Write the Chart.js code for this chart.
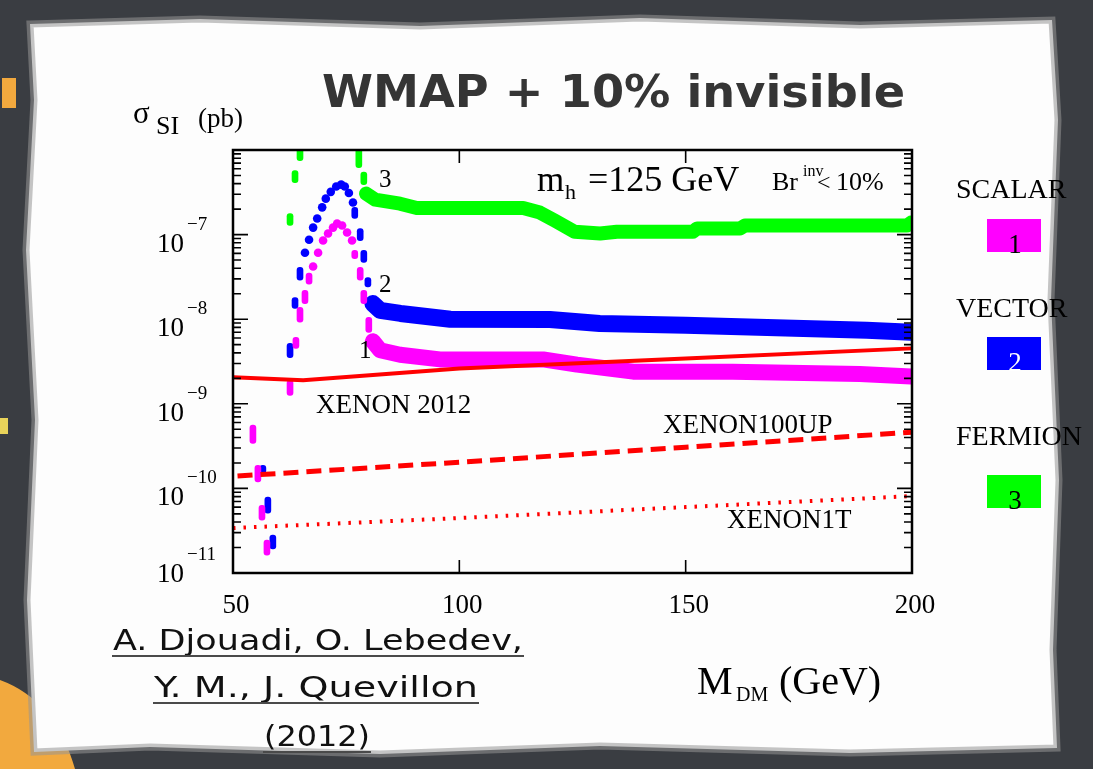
<!DOCTYPE html>
<html>
<head>
<meta charset="utf-8">
<title>WMAP + 10% invisible</title>
<style>
  html, body { margin: 0; padding: 0; background: #3b3e43; }
  canvas { display: block; }
</style>
<script src="https://cdn.jsdelivr.net/npm/chart.js@4.4.1/dist/chart.umd.min.js"></script>
</head>
<body>
<canvas id="dmChart" width="1093" height="769"></canvas>
<script>
// axis ticks
const xTicks = [50, 100, 150, 200];
const yDecades = [-11, -10, -9, -8, -7];

// XENON limits (pb)
const xenon2012Mass  = [50, 65.5, 100, 150, 200, 202.9];
const xenon2012Sigma = [2.06e-9, 1.9e-9, 2.62e-9, 3.44e-9, 4.52e-9, 4.6e-9];
const xenon100upMass  = [51, 100, 150, 200];
const xenon100upSigma = [1.4e-10, 2.04e-10, 3.07e-10, 4.61e-10];
const xenon1tMass  = [50, 100, 150, 200];
const xenon1tSigma = [3.4e-11, 4.46e-11, 6.01e-11, 8.11e-11];

// allowed bands above the resonance
const scalarBandMass  = [80.9, 82.5, 86.9, 95.7, 118.5, 126, 138.4, 160.4, 188.5, 199.8];
const scalarBandSigma = [5.5e-9, 4.3e-9, 3.8e-9, 3.35e-9, 3.35e-9, 2.9e-9, 2.4e-9, 2.4e-9, 2.25e-9, 2.1e-9];
const vectorBandMass  = [80.9, 82.5, 87, 98, 120, 131, 150, 170, 190, 199.8];
const vectorBandSigma = [1.53e-8, 1.27e-8, 1.17e-8, 1.0e-8, 9.9e-9, 8.9e-9, 8.5e-9, 7.9e-9, 7.4e-9, 7.0e-9];
const fermionBandMass  = [79.4, 81.4, 86.9, 90.6, 114.1, 117.8, 121.1, 125.5, 131.1, 134.8, 151.6, 152.5, 162, 163.1, 198.9, 199.8];
const fermionBandSigma = [3.05e-7, 2.59e-7, 2.32e-7, 2.06e-7, 2.06e-7, 1.82e-7, 1.46e-7, 1.08e-7, 1.03e-7, 1.08e-7, 1.08e-7, 1.18e-7, 1.18e-7, 1.28e-7, 1.28e-7, 1.39e-7];

// resonance region: vertical streaks (low / high) and single points
const scalarDashMass = [54.4, 55.5, 56.4, 57.5, 62.6, 63.9, 64.8, 65.9, 66.8, 76.9, 78.1, 78.9, 80.0];
const scalarDashLow  = [3.4e-10, 1.19e-10, 4.2e-11, 1.63e-11, 1.26e-9, 4.5e-9, 9.2e-9, 1.53e-8, 2.6e-8, 5.2e-8, 2.9e-8, 1.53e-8, 7.0e-9];
const scalarDashHigh = [5.6e-10, 1.88e-10, 6.3e-11, 2.45e-11, 1.9e-9, 6.1e-9, 1.38e-8, 2.2e-8, 3.5e-8, 6.5e-8, 4.1e-8, 2.2e-8, 1.05e-8];
const scalarDotMass  = [67.7, 68.8, 69.9, 71.0, 72.1, 73.0, 74.1, 75.2, 76.3];
const scalarDotSigma = [4.2e-8, 6.1e-8, 8.5e-8, 1.03e-7, 1.21e-7, 1.35e-7, 1.28e-7, 1.06e-7, 8.5e-8];

const vectorDashMass = [56.6, 57.7, 58.8, 62.6, 63.7, 64.8, 76.9, 78.1, 78.9, 79.8];
const vectorDashLow  = [1.51e-10, 5.1e-11, 1.92e-11, 3.5e-9, 1.34e-8, 2.9e-8, 1.55e-7, 8.5e-8, 4.7e-8, 2.4e-8];
const vectorDashHigh = [1.88e-10, 7.9e-11, 2.8e-11, 5.2e-9, 1.8e-8, 4.1e-8, 2.1e-7, 1.18e-7, 6.5e-8, 3.1e-8];
const vectorDotMass  = [65.9, 66.8, 67.7, 68.6, 69.7, 70.5, 71.6, 72.8, 73.9, 74.7, 75.6, 76.5];
const vectorDotSigma = [6.1e-8, 8.7e-8, 1.21e-7, 1.55e-7, 2.1e-7, 2.66e-7, 3.2e-7, 3.7e-7, 3.9e-7, 3.7e-7, 3.1e-7, 2.4e-7];

const fermionDashMass = [62.6, 63.7, 64.8, 77.8, 78.9];
const fermionDashLow  = [1.28e-7, 4.1e-7, 7.5e-7, 6.2e-7, 3.9e-7];
const fermionDashHigh = [1.77e-7, 5.7e-7, 1.1e-6, 1.1e-6, 5.5e-7];

const MAGENTA = '#ff00ff', BLUE = '#0000ff', GREEN = '#00ff00', RED = '#ff0000';
const SERIF = '"Liberation Serif", "Times New Roman", serif';
const HAND = '"DejaVu Sans", sans-serif';

function pts(mass, sigma) {
  return mass.map((m, i) => ({ x: m, y: sigma[i] }));
}
function limitLine(mass, sigma, dash, width) {
  return {
    type: 'line', data: pts(mass, sigma), borderColor: RED, borderWidth: width,
    borderDash: dash, borderCapStyle: 'butt', pointRadius: 0, tension: 0, fill: false,
    clip: false, order: 0
  };
}
function band(mass, sigma, color, width) {
  return {
    type: 'line', data: pts(mass, sigma), borderColor: color, borderWidth: width,
    borderCapStyle: 'round', borderJoinStyle: 'round', pointRadius: 0, tension: 0,
    fill: false, order: 3
  };
}
function streaks(mass, low, high, color, order) {
  return {
    type: 'bar', data: mass.map((m, i) => ({ x: m, y: [low[i], high[i]] })),
    backgroundColor: color, barThickness: 6, borderRadius: 3, borderSkipped: false,
    grouped: false, order: order
  };
}
function dots(mass, sigma, color, order) {
  return {
    type: 'scatter', data: pts(mass, sigma), showLine: false, pointRadius: 4.3,
    pointBackgroundColor: color, pointBorderWidth: 0, order: order
  };
}

function text(ctx, s, x, y, size, opts) {
  opts = opts || {};
  ctx.font = (opts.weight || '') + ' ' + size + 'px ' + (opts.family || SERIF);
  ctx.fillStyle = opts.color || '#000';
  ctx.textAlign = opts.align || 'left';
  ctx.textBaseline = 'alphabetic';
  if (opts.fit) {
    const w = ctx.measureText(s).width;
    ctx.save();
    ctx.translate(x, y);
    ctx.scale(opts.fit / w, 1);
    ctx.fillText(s, 0, 0);
    ctx.restore();
  } else {
    ctx.fillText(s, x, y);
  }
}

const paper = {
  id: 'paper',
  beforeDraw(chart) {
    const ctx = chart.ctx;
    ctx.save();
    ctx.fillStyle = '#3a3d42';
    ctx.fillRect(0, 0, chart.width, chart.height);
    // orange chalk marks on the dark border
    ctx.fillStyle = '#f2a93e';
    ctx.beginPath();
    ctx.moveTo(0, 680); ctx.quadraticCurveTo(55, 700, 75, 769); ctx.lineTo(0, 769); ctx.closePath();
    ctx.fill();
    ctx.fillRect(2, 78, 14, 30);
    ctx.fillStyle = '#e8d35a';
    ctx.fillRect(0, 418, 8, 16);
    // torn paper
    const edge = [[30,24],[200,19],[420,26],[640,18],[860,25],[1052,20],[1058,120],[1051,300],[1059,480],[1053,650],[1057,748],
                  [850,753],[600,746],[380,754],[150,747],[34,752],[27,600],[35,420],[26,250],[34,100]];
    ctx.beginPath();
    edge.forEach((p, i) => i ? ctx.lineTo(p[0], p[1]) : ctx.moveTo(p[0], p[1]));
    ctx.closePath();
    ctx.fillStyle = '#fdfdfd';
    ctx.fill();
    ctx.strokeStyle = 'rgba(150,150,150,0.55)';
    ctx.lineWidth = 7;
    ctx.stroke();
    ctx.restore();
  }
};

const decor = {
  id: 'decor',
  afterDatasetsDraw(chart) {
    const { ctx, chartArea: a, scales: { x, y } } = chart;
    ctx.save();
    // frame and ticks
    ctx.strokeStyle = '#000';
    ctx.lineWidth = 2.5;
    ctx.strokeRect(a.left, a.top, a.right - a.left, a.bottom - a.top);
    ctx.lineWidth = 1.6;
    ctx.beginPath();
    xTicks.forEach(v => {
      const px = x.getPixelForValue(v);
      ctx.moveTo(px, a.bottom); ctx.lineTo(px, a.bottom - 13);
      ctx.moveTo(px, a.top); ctx.lineTo(px, a.top + 13);
    });
    yDecades.forEach(e => {
      for (let m = 1; m <= 9; m++) {
        const py = y.getPixelForValue(m * Math.pow(10, e));
        const len = m === 1 ? 15 : 8;
        ctx.moveTo(a.left, py); ctx.lineTo(a.left + len, py);
        ctx.moveTo(a.right, py); ctx.lineTo(a.right - len, py);
      }
    });
    ctx.stroke();

    // tick labels
    xTicks.forEach(v => text(ctx, String(v), x.getPixelForValue(v) + 3, 613, 27, { align: 'center' }));
    yDecades.forEach((e, i) => {
      const py = y.getPixelForValue(Math.pow(10, e)) - (i === 0 ? 8 : 0);
      text(ctx, '10', 184, py + 17, 27, { align: 'right' });
      text(ctx, '\u2212' + Math.abs(e), 187, py - 5, 19);
    });

    // axis titles
    text(ctx, '\u03c3', 133, 123, 31);
    text(ctx, 'SI', 156, 134, 26);
    text(ctx, '(pb)', 198, 127, 27);
    text(ctx, 'M', 697, 694, 40);
    text(ctx, 'DM', 736, 701, 20);
    text(ctx, '(GeV)', 779, 694, 40);

    // annotations inside the frame
    text(ctx, 'm', 537, 191, 35);
    text(ctx, 'h', 565, 199, 22);
    text(ctx, '=125 GeV', 588, 191, 36);
    text(ctx, 'Br', 772, 190, 26);
    text(ctx, 'inv', 803, 176, 16);
    text(ctx, '<', 817, 190, 24);
    text(ctx, '10%', 836, 190, 26);
    text(ctx, '3', 379, 187, 25);
    text(ctx, '2', 379, 292, 25);
    text(ctx, '1', 359, 358, 25);
    text(ctx, 'XENON 2012', 316, 413, 27);
    text(ctx, 'XENON100UP', 663, 433, 27);
    text(ctx, 'XENON1T', 727, 528, 27);

    // legend boxes
    const legend = [['SCALAR', 198, 219, MAGENTA, '1', '#000'],
                    ['VECTOR', 317, 337, BLUE, '2', '#fff'],
                    ['FERMION', 445, 475, GREEN, '3', '#000']];
    legend.forEach(l => {
      text(ctx, l[0], 956, l[1], 28);
      ctx.fillStyle = l[3];
      ctx.fillRect(987, l[2], 54, 33);
      text(ctx, l[4], 1015, l[2] + 34, 27, { align: 'center', color: l[5] });
    });

    // handwritten title and authors
    text(ctx, 'WMAP + 10% invisible', 322, 107, 44, { family: HAND, weight: 'bold', color: '#353535', fit: 583 });
    const authors = [['A. Djouadi, O. Lebedev,', 113, 650, 410, 656],
                     ['Y. M., J. Quevillon', 154, 697, 324, 703],
                     ['(2012)', 264, 746, 106, 752]];
    ctx.strokeStyle = '#4a4a4a';
    ctx.lineWidth = 2;
    authors.forEach(r => {
      text(ctx, r[0], r[1], r[2], 28, { family: HAND, color: '#111', fit: r[3] });
      ctx.beginPath();
      ctx.moveTo(r[1] - 1, r[4]); ctx.lineTo(r[1] + r[3] + 1, r[4]);
      ctx.stroke();
    });
    ctx.restore();
  }
};

new Chart(document.getElementById('dmChart'), {
  type: 'scatter',
  data: {
    datasets: [
      limitLine(xenon2012Mass, xenon2012Sigma, [], 4),
      limitLine(xenon100upMass, xenon100upSigma, [15, 8], 5),
      limitLine(xenon1tMass, xenon1tSigma, [2.5, 8], 4),
      streaks(scalarDashMass, scalarDashLow, scalarDashHigh, MAGENTA, 1),
      dots(scalarDotMass, scalarDotSigma, MAGENTA, 1),
      streaks(vectorDashMass, vectorDashLow, vectorDashHigh, BLUE, 2),
      dots(vectorDotMass, vectorDotSigma, BLUE, 2),
      streaks(fermionDashMass, fermionDashLow, fermionDashHigh, GREEN, 2),
      band(scalarBandMass, scalarBandSigma, MAGENTA, 16),
      band(vectorBandMass, vectorBandSigma, BLUE, 17),
      band(fermionBandMass, fermionBandSigma, GREEN, 14)
    ]
  },
  options: {
    responsive: false,
    animation: false,
    layout: { padding: { left: 233, right: 181, top: 150, bottom: 196 } },
    plugins: { legend: { display: false }, tooltip: { enabled: false }, title: { display: false } },
    scales: {
      x: { type: 'linear', min: 50, max: 200, offset: false, display: false },
      y: { type: 'logarithmic', min: 1e-11, max: 1e-6, display: false }
    }
  },
  plugins: [paper, decor]
});
</script>
</body>
</html>
